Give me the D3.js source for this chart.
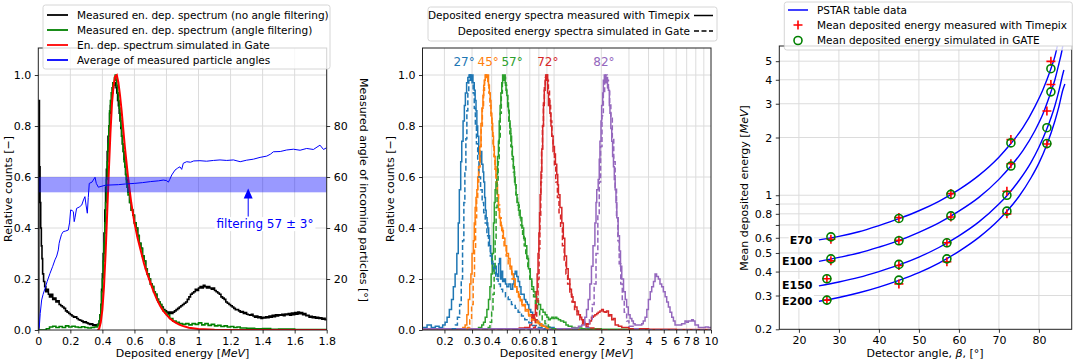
<!DOCTYPE html>
<html>
<head>
<meta charset="utf-8">
<script src="https://cdn.jsdelivr.net/npm/d3@7"></script>
<style>
  body { margin: 0; background: #fff; }
  svg { font-family: "DejaVu Sans", sans-serif; }
</style>
</head>
<body>
<svg id="chart" width="1074" height="362"></svg>
<script>
// ---------- panel 1: spectra at 57 deg ----------
const p1XTicks = [0, 0.2, 0.4, 0.6, 0.8, 1, 1.2, 1.4, 1.6, 1.8];
const p1YTicks = [0, 0.2, 0.4, 0.6, 0.8, 1.0];
const p1AngleTicks = [20, 40, 60, 80];
const p1Legend = ["Measured en. dep. spectrum (no angle filtering)", "Measured en. dep. spectrum (angle filtering)",
  "En. dep. spectrum simulated in Gate", "Average of measured particle angles"];
const filterBand = [54, 60];

const noFilterSpec = [[0,0],[0.003,0.9],[0.007,0.64],[0.011,0.5],[0.015,0.4],[0.019,0.33],[0.023,0.28],[0.027,0.22],[0.033,0.19],
  [0.04,0.17],[0.047,0.15],[0.055,0.16],[0.063,0.14],[0.07,0.13],[0.08,0.14],[0.09,0.12],[0.1,0.125],[0.11,0.11],[0.12,0.115],
  [0.13,0.1],[0.14,0.095],[0.15,0.09],[0.16,0.085],[0.17,0.075],[0.18,0.07],[0.19,0.065],[0.2,0.06],[0.21,0.055],[0.22,0.05],
  [0.23,0.052],[0.24,0.045],[0.25,0.04],[0.26,0.038],[0.27,0.035],[0.28,0.03],[0.29,0.032],[0.3,0.028],[0.31,0.025],[0.32,0.022],
  [0.33,0.024],[0.34,0.018],[0.35,0.02],[0.36,0.016],[0.37,0.022],[0.38,0.035],[0.385,0.06],[0.39,0.1],[0.395,0.16],[0.4,0.22],
  [0.405,0.3],[0.41,0.38],[0.415,0.47],[0.42,0.56],[0.425,0.63],[0.43,0.7],[0.435,0.76],[0.44,0.8],[0.445,0.85],[0.45,0.88],
  [0.455,0.9],[0.46,0.93],[0.465,0.95],[0.47,0.97],[0.475,0.96],[0.48,0.97],[0.485,0.95],[0.49,0.93],[0.495,0.9],[0.5,0.88],
  [0.505,0.85],[0.51,0.82],[0.515,0.79],[0.52,0.76],[0.525,0.73],[0.53,0.7],[0.535,0.67],[0.54,0.64],[0.545,0.61],[0.55,0.59],
  [0.555,0.56],[0.56,0.54],[0.57,0.5],[0.58,0.47],[0.59,0.45],[0.6,0.42],[0.61,0.4],[0.62,0.37],[0.63,0.34],[0.64,0.32],
  [0.65,0.29],[0.66,0.27],[0.67,0.24],[0.68,0.22],[0.69,0.2],[0.7,0.18],[0.71,0.17],[0.72,0.15],[0.73,0.14],[0.74,0.12],
  [0.75,0.11],[0.76,0.1],[0.77,0.09],[0.78,0.08],[0.79,0.075],[0.8,0.07],[0.81,0.065],[0.82,0.07],[0.83,0.065],[0.84,0.07],
  [0.85,0.075],[0.86,0.08],[0.87,0.085],[0.88,0.09],[0.89,0.095],[0.9,0.1],[0.91,0.105],[0.92,0.11],[0.93,0.12],[0.94,0.13],
  [0.95,0.14],[0.96,0.145],[0.97,0.15],[0.98,0.16],[0.99,0.155],[1.0,0.165],[1.01,0.17],[1.02,0.165],[1.03,0.175],[1.04,0.17],
  [1.05,0.165],[1.06,0.17],[1.07,0.165],[1.08,0.16],[1.09,0.165],[1.1,0.155],[1.11,0.15],[1.12,0.145],[1.13,0.14],[1.14,0.13],
  [1.15,0.125],[1.16,0.12],[1.17,0.11],[1.18,0.105],[1.19,0.1],[1.2,0.095],[1.21,0.09],[1.22,0.085],[1.23,0.08],[1.24,0.08],
  [1.25,0.075],[1.26,0.07],[1.27,0.072],[1.28,0.065],[1.29,0.068],[1.3,0.062],[1.31,0.06],[1.32,0.058],[1.33,0.062],[1.34,0.055],
  [1.35,0.05],[1.36,0.055],[1.37,0.048],[1.38,0.052],[1.39,0.045],[1.4,0.05],[1.41,0.047],[1.42,0.052],[1.43,0.048],[1.44,0.055],
  [1.45,0.05],[1.46,0.058],[1.47,0.052],[1.48,0.06],[1.49,0.055],[1.5,0.06],[1.51,0.058],[1.52,0.062],[1.53,0.056],[1.54,0.063],
  [1.55,0.06],[1.56,0.065],[1.57,0.058],[1.58,0.066],[1.59,0.06],[1.6,0.068],[1.61,0.062],[1.62,0.07],[1.63,0.064],[1.64,0.068],
  [1.65,0.06],[1.66,0.065],[1.67,0.056],[1.68,0.058],[1.69,0.05],[1.7,0.054],[1.71,0.048],[1.72,0.052],[1.73,0.046],[1.74,0.05],
  [1.75,0.045],[1.76,0.048],[1.77,0.042],[1.78,0.046],[1.79,0.04],[1.8,0.044]];

const filterSpec = [[0,0],[0.05,0.005],[0.07,0.012],[0.09,0.015],[0.11,0.01],[0.13,0.014],[0.15,0.01],[0.17,0.016],[0.19,0.012],
  [0.21,0.015],[0.23,0.012],[0.25,0.01],[0.27,0.013],[0.29,0.01],[0.31,0.008],[0.33,0.01],[0.35,0.012],[0.37,0.02],[0.38,0.035],
  [0.385,0.06],[0.39,0.1],[0.395,0.15],[0.4,0.2],[0.405,0.27],[0.41,0.34],[0.415,0.42],[0.42,0.5],[0.425,0.59],[0.43,0.66],
  [0.435,0.73],[0.44,0.8],[0.445,0.86],[0.45,0.9],[0.455,0.93],[0.46,0.95],[0.465,0.97],[0.47,0.96],[0.475,0.99],[0.48,1.0],
  [0.485,0.98],[0.49,0.96],[0.495,0.93],[0.5,0.9],[0.505,0.87],[0.51,0.83],[0.515,0.8],[0.52,0.76],[0.525,0.73],[0.53,0.7],
  [0.535,0.66],[0.54,0.64],[0.545,0.61],[0.55,0.58],[0.555,0.56],[0.56,0.53],[0.57,0.5],[0.58,0.47],[0.59,0.45],[0.6,0.42],
  [0.61,0.4],[0.62,0.37],[0.63,0.34],[0.64,0.32],[0.65,0.29],[0.66,0.27],[0.67,0.24],[0.68,0.22],[0.69,0.2],[0.7,0.18],
  [0.71,0.17],[0.72,0.15],[0.73,0.14],[0.74,0.12],[0.75,0.11],[0.76,0.1],[0.77,0.085],[0.78,0.075],[0.79,0.068],[0.8,0.06],
  [0.82,0.045],[0.84,0.035],[0.86,0.03],[0.88,0.025],[0.9,0.022],[0.92,0.025],[0.94,0.02],[0.96,0.025],[0.98,0.022],[1.0,0.028],
  [1.02,0.02],[1.04,0.025],[1.06,0.018],[1.08,0.022],[1.1,0.016],[1.12,0.018],[1.14,0.014],[1.16,0.016],[1.18,0.012],[1.2,0.014],
  [1.22,0.01],[1.24,0.012],[1.26,0.008],[1.3,0.007],[1.35,0.005],[1.4,0.006],[1.45,0.003],[1.5,0.004],[1.6,0.002],[1.7,0.002],[1.8,0.001]];

const gateSpec = [[0.37,0],[0.38,0.005],[0.39,0.03],[0.4,0.08],[0.41,0.17],[0.42,0.3],[0.43,0.46],[0.44,0.62],[0.45,0.77],
  [0.46,0.89],[0.47,0.96],[0.48,0.995],[0.49,1.0],[0.5,0.97],[0.51,0.92],[0.52,0.86],[0.53,0.79],[0.54,0.72],[0.55,0.66],
  [0.56,0.6],[0.57,0.55],[0.58,0.5],[0.59,0.46],[0.6,0.42],[0.62,0.36],[0.64,0.31],[0.66,0.26],[0.68,0.22],[0.7,0.185],
  [0.72,0.15],[0.74,0.12],[0.76,0.095],[0.78,0.075],[0.8,0.06],[0.82,0.046],[0.84,0.036],[0.86,0.028],[0.88,0.021],[0.9,0.016],
  [0.94,0.009],[1.0,0.004],[1.1,0.001],[1.2,0],[1.8,0]];

const angleAvg = [[0,0],[0.006,1],[0.012,6.5],[0.021,11.8],[0.03,14],[0.042,16.3],[0.055,19],[0.073,22.2],[0.09,25],[0.104,27.5],
  [0.115,29],[0.125,31.4],[0.13,34],[0.135,35.3],[0.145,37.5],[0.156,38.6],[0.17,38.8],[0.187,39.2],[0.195,42],[0.202,47.1],
  [0.212,46.8],[0.219,46.4],[0.224,42.5],[0.229,44],[0.239,47.7],[0.255,48.2],[0.271,49],[0.282,51],[0.291,52.3],[0.298,49],
  [0.306,45.8],[0.312,52],[0.318,57.5],[0.335,58],[0.354,59.9],[0.362,57.5],[0.375,56],[0.385,56.2],[0.42,56.8],[0.5,57],
  [0.55,57.3],[0.6,57.5],[0.65,57.8],[0.7,58.2],[0.75,58.5],[0.78,58.8],[0.8,58.6],[0.812,58],[0.82,59],[0.833,60.8],
  [0.853,62.7],[0.87,63.5],[0.884,64],[0.895,63],[0.905,65.4],[0.926,66],[0.95,65.8],[0.97,66.3],[1.009,66.4],[1.05,66.2],
  [1.093,66.5],[1.134,66.7],[1.176,66.5],[1.218,66.7],[1.26,66],[1.3,66.6],[1.343,67],[1.384,67.7],[1.426,68.2],[1.45,69],
  [1.467,69.9],[1.51,70],[1.55,70.6],[1.592,70.9],[1.634,70.5],[1.675,71.2],[1.717,70.8],[1.758,72.5],[1.78,70.8],[1.8,71.5]];

// ---------- panel 2: spectra for five angles ----------
const p2GridX = [0.2, 0.3, 0.4, 0.5, 0.6, 0.7, 0.8, 0.9, 1, 2, 3, 4, 5, 6, 7, 8, 9];
const p2XLabels = [0.2, 0.3, 0.4, 0.6, 0.8, 1, 2, 3, 4, 5, 6, 7, 8, 10];
const p2YTicks = [0, 0.2, 0.4, 0.6, 0.8, 1.0];
const angleNames = ["27°", "45°", "57°", "72°", "82°"];
const angleLabelEnergy = [0.267, 0.38, 0.54, 0.912, 2.08];
const angleColors = ["#1f77b4", "#ff7f0e", "#2ca02c", "#d62728", "#9467bd"];
const p2Legend = ["Deposited energy spectra measured with Timepix", "Deposited energy spectra simulated in Gate"];

const meas27 = [[0.145,0.01],[0.155,0.02],[0.165,0.01],[0.175,0.015],[0.185,0.01],[0.195,0.02],[0.202,0.03],[0.208,0.05],
  [0.215,0.08],[0.222,0.12],[0.228,0.17],[0.234,0.22],[0.24,0.3],[0.245,0.42],[0.249,0.55],[0.254,0.66],[0.258,0.74],[0.263,0.82],
  [0.268,0.88],[0.272,0.93],[0.277,0.97],[0.282,0.99],[0.287,1.0],[0.293,0.98],[0.298,1.0],[0.304,0.97],[0.31,0.94],[0.314,0.9],
  [0.318,0.86],[0.322,0.8],[0.326,0.76],[0.331,0.69],[0.336,0.66],[0.341,0.7],[0.346,0.65],[0.352,0.62],[0.356,0.58],[0.361,0.52],
  [0.365,0.47],[0.369,0.44],[0.374,0.42],[0.378,0.4],[0.383,0.37],[0.388,0.33],[0.394,0.3],[0.4,0.27],[0.407,0.26],[0.414,0.24],
  [0.421,0.25],[0.428,0.22],[0.436,0.21],[0.443,0.26],[0.449,0.28],[0.456,0.2],[0.463,0.23],[0.47,0.19],[0.48,0.2],[0.49,0.18],
  [0.5,0.17],[0.515,0.18],[0.53,0.16],[0.545,0.18],[0.555,0.22],[0.565,0.23],[0.578,0.21],[0.59,0.19],[0.603,0.17],[0.615,0.14],
  [0.63,0.14],[0.645,0.12],[0.66,0.11],[0.675,0.1],[0.69,0.08],[0.71,0.07],[0.73,0.05],[0.75,0.04],[0.78,0.03],[0.81,0.02],
  [0.85,0.015],[0.9,0.01],[1.0,0.005],[1.2,0.003],[1.5,0.002],[2.0,0],[10,0]];
const sim27 = [[0.145,0],[0.215,0],[0.225,0.005],[0.235,0.02],[0.242,0.05],[0.25,0.1],[0.256,0.2],[0.261,0.35],[0.266,0.5],
  [0.27,0.62],[0.274,0.75],[0.278,0.86],[0.282,0.93],[0.286,0.98],[0.29,1.0],[0.295,0.99],[0.3,0.97],[0.305,0.93],[0.31,0.87],
  [0.315,0.8],[0.32,0.73],[0.326,0.66],[0.332,0.6],[0.34,0.55],[0.348,0.5],[0.356,0.46],[0.364,0.42],[0.373,0.37],[0.382,0.33],
  [0.392,0.29],[0.401,0.26],[0.412,0.23],[0.425,0.2],[0.44,0.18],[0.455,0.16],[0.47,0.15],[0.49,0.13],[0.51,0.12],[0.535,0.1],
  [0.565,0.085],[0.59,0.07],[0.62,0.055],[0.65,0.04],[0.69,0.028],[0.73,0.018],[0.78,0.01],[0.84,0.005],[0.9,0],[10,0]];
const meas45 = [[0.145,0.005],[0.2,0.005],[0.25,0.005],[0.262,0.01],[0.271,0.02],[0.278,0.06],[0.284,0.12],[0.29,0.18],
  [0.295,0.22],[0.3,0.3],[0.306,0.35],[0.31,0.42],[0.314,0.48],[0.318,0.52],[0.322,0.55],[0.326,0.6],[0.33,0.64],[0.336,0.72],
  [0.342,0.81],[0.347,0.87],[0.352,0.92],[0.356,0.96],[0.36,0.98],[0.364,1.0],[0.37,0.99],[0.376,1.0],[0.382,0.96],[0.387,0.93],
  [0.392,0.9],[0.396,0.85],[0.401,0.81],[0.406,0.76],[0.411,0.72],[0.416,0.68],[0.421,0.64],[0.426,0.6],[0.431,0.57],[0.436,0.53],
  [0.442,0.47],[0.448,0.44],[0.455,0.41],[0.464,0.39],[0.475,0.36],[0.486,0.33],[0.498,0.3],[0.512,0.28],[0.524,0.25],[0.537,0.22],
  [0.55,0.2],[0.565,0.17],[0.58,0.15],[0.593,0.13],[0.608,0.115],[0.623,0.1],[0.655,0.08],[0.687,0.06],[0.72,0.045],[0.757,0.035],
  [0.795,0.025],[0.835,0.015],[0.88,0.01],[0.921,0.005],[1.0,0.003],[1.3,0.002],[2,0],[10,0]];
const sim45 = [[0.145,0],[0.27,0],[0.28,0.01],[0.29,0.04],[0.298,0.1],[0.305,0.2],[0.311,0.32],[0.316,0.44],[0.321,0.52],
  [0.326,0.58],[0.331,0.64],[0.337,0.72],[0.343,0.8],[0.349,0.88],[0.355,0.94],[0.36,0.98],[0.366,1.0],[0.372,0.99],[0.378,0.97],
  [0.384,0.93],[0.39,0.88],[0.396,0.83],[0.402,0.78],[0.408,0.73],[0.414,0.68],[0.42,0.63],[0.427,0.58],[0.434,0.54],[0.442,0.49],
  [0.45,0.44],[0.46,0.4],[0.47,0.36],[0.48,0.33],[0.495,0.29],[0.51,0.26],[0.525,0.23],[0.54,0.2],[0.56,0.17],[0.58,0.14],
  [0.6,0.12],[0.625,0.095],[0.655,0.075],[0.69,0.055],[0.72,0.04],[0.76,0.028],[0.8,0.018],[0.85,0.01],[0.9,0.005],[1.0,0],[10,0]];
const meas57 = [[0.145,0.005],[0.3,0.005],[0.33,0.01],[0.346,0.02],[0.355,0.03],[0.364,0.05],[0.373,0.08],[0.382,0.12],
  [0.39,0.17],[0.397,0.22],[0.404,0.3],[0.411,0.42],[0.416,0.5],[0.421,0.55],[0.426,0.58],[0.431,0.61],[0.436,0.68],[0.442,0.74],
  [0.447,0.82],[0.453,0.88],[0.458,0.93],[0.464,0.97],[0.47,1.0],[0.476,0.98],[0.482,1.0],[0.488,0.97],[0.494,0.94],[0.5,0.92],
  [0.506,0.89],[0.512,0.86],[0.518,0.82],[0.524,0.79],[0.53,0.76],[0.536,0.72],[0.542,0.68],[0.55,0.64],[0.558,0.6],[0.565,0.57],
  [0.572,0.53],[0.58,0.5],[0.593,0.47],[0.608,0.44],[0.623,0.4],[0.64,0.36],[0.655,0.33],[0.67,0.28],[0.687,0.24],[0.705,0.2],
  [0.721,0.17],[0.74,0.15],[0.757,0.13],[0.776,0.115],[0.795,0.1],[0.82,0.08],[0.85,0.07],[0.877,0.06],[0.9,0.05],[0.921,0.04],
  [0.945,0.045],[0.967,0.05],[0.99,0.045],[1.015,0.05],[1.04,0.045],[1.066,0.04],[1.1,0.035],[1.15,0.03],[1.19,0.02],[1.23,0.015],
  [1.3,0.01],[1.36,0.008],[1.5,0.005],[2.0,0.003],[3,0],[10,0]];
const sim57 = [[0.145,0],[0.36,0],[0.375,0.01],[0.39,0.03],[0.4,0.07],[0.408,0.14],[0.415,0.24],[0.421,0.36],[0.427,0.48],
  [0.433,0.58],[0.44,0.66],[0.447,0.75],[0.454,0.85],[0.461,0.93],[0.468,0.98],[0.475,1.0],[0.482,0.99],[0.49,0.96],[0.498,0.92],
  [0.506,0.87],[0.514,0.82],[0.522,0.77],[0.53,0.72],[0.54,0.67],[0.55,0.62],[0.56,0.58],[0.572,0.53],[0.585,0.49],[0.6,0.45],
  [0.615,0.41],[0.63,0.37],[0.645,0.33],[0.66,0.29],[0.68,0.24],[0.7,0.2],[0.72,0.16],[0.74,0.13],[0.76,0.105],[0.785,0.08],
  [0.81,0.06],[0.84,0.04],[0.875,0.025],[0.92,0.012],[0.97,0.005],[1.05,0],[10,0]];
const meas72 = [[0.145,0.005],[0.3,0.005],[0.5,0.005],[0.6,0.008],[0.65,0.01],[0.7,0.02],[0.72,0.06],[0.735,0.04],[0.75,0.06],
  [0.76,0.1],[0.77,0.15],[0.78,0.22],[0.79,0.3],[0.8,0.38],[0.808,0.46],[0.815,0.53],[0.825,0.62],[0.835,0.71],[0.846,0.8],
  [0.856,0.88],[0.866,0.94],[0.877,0.98],[0.884,1.0],[0.89,0.98],[0.9,1.0],[0.91,0.93],[0.921,0.88],[0.93,0.9],[0.94,0.85],
  [0.955,0.8],[0.967,0.76],[0.985,0.72],[1.005,0.69],[1.02,0.65],[1.04,0.61],[1.055,0.57],[1.066,0.53],[1.09,0.48],[1.12,0.42],
  [1.145,0.36],[1.17,0.29],[1.2,0.24],[1.23,0.2],[1.26,0.16],[1.29,0.13],[1.32,0.11],[1.36,0.09],[1.4,0.075],[1.43,0.06],
  [1.47,0.05],[1.5,0.04],[1.54,0.03],[1.57,0.025],[1.62,0.022],[1.65,0.025],[1.69,0.035],[1.73,0.05],[1.78,0.055],[1.82,0.06],
  [1.87,0.065],[1.91,0.07],[1.96,0.075],[2.01,0.08],[2.06,0.072],[2.11,0.07],[2.16,0.075],[2.22,0.055],[2.27,0.06],[2.33,0.04],
  [2.39,0.045],[2.45,0.02],[2.57,0.015],[2.7,0.01],[3.0,0.005],[4,0.003],[6,0.002],[10,0]];
const sim72 = [[0.145,0],[0.7,0],[0.74,0.01],[0.76,0.04],[0.775,0.1],[0.79,0.2],[0.802,0.32],[0.812,0.45],[0.822,0.58],
  [0.832,0.7],[0.843,0.8],[0.855,0.89],[0.867,0.95],[0.88,0.99],[0.893,1.0],[0.906,0.98],[0.92,0.94],[0.935,0.88],[0.95,0.82],
  [0.967,0.76],[0.985,0.7],[1.005,0.64],[1.025,0.58],[1.05,0.52],[1.075,0.46],[1.1,0.4],[1.13,0.33],[1.16,0.27],[1.19,0.22],
  [1.22,0.18],[1.26,0.14],[1.3,0.11],[1.35,0.08],[1.4,0.06],[1.46,0.04],[1.52,0.025],[1.6,0.015],[1.7,0.008],[1.85,0.003],[2,0],[10,0]];
const meas82 = [[0.145,0.005],[0.5,0.005],[1.0,0.005],[1.3,0.008],[1.43,0.015],[1.5,0.02],[1.57,0.05],[1.61,0.08],[1.65,0.12],
  [1.69,0.18],[1.73,0.25],[1.77,0.33],[1.82,0.42],[1.85,0.5],[1.87,0.55],[1.91,0.59],[1.94,0.67],[1.96,0.74],[1.99,0.82],
  [2.01,0.88],[2.04,0.93],[2.06,0.98],[2.09,1.0],[2.12,0.97],[2.16,0.99],[2.19,0.95],[2.22,0.94],[2.25,0.88],[2.27,0.85],
  [2.3,0.79],[2.33,0.74],[2.36,0.68],[2.39,0.64],[2.42,0.59],[2.45,0.55],[2.48,0.5],[2.51,0.44],[2.56,0.37],[2.61,0.31],
  [2.65,0.25],[2.7,0.2],[2.77,0.15],[2.84,0.12],[2.9,0.09],[2.97,0.06],[3.05,0.045],[3.13,0.035],[3.2,0.025],[3.28,0.02],
  [3.45,0.02],[3.62,0.025],[3.7,0.035],[3.8,0.05],[3.9,0.08],[3.99,0.12],[4.1,0.15],[4.19,0.17],[4.3,0.19],[4.4,0.22],
  [4.5,0.21],[4.62,0.2],[4.73,0.18],[4.85,0.17],[4.97,0.15],[5.1,0.13],[5.22,0.11],[5.35,0.09],[5.48,0.07],[5.62,0.05],
  [5.76,0.035],[5.9,0.02],[6.2,0.02],[6.5,0.025],[6.83,0.035],[7.0,0.03],[7.17,0.035],[7.53,0.04],[7.7,0.035],[7.91,0.02],
  [8.31,0.01],[8.72,0.01],[9.2,0.012],[9.6,0.01],[10,0.01]];
const sim82 = [[0.145,0],[1.5,0],[1.6,0.01],[1.68,0.04],[1.75,0.1],[1.8,0.18],[1.85,0.3],[1.9,0.45],[1.94,0.58],[1.98,0.72],
  [2.02,0.84],[2.06,0.93],[2.1,0.98],[2.14,1.0],[2.18,0.98],[2.22,0.94],[2.26,0.89],[2.3,0.83],[2.35,0.75],[2.4,0.66],
  [2.45,0.56],[2.5,0.45],[2.55,0.35],[2.6,0.26],[2.66,0.18],[2.72,0.12],[2.8,0.07],[2.9,0.035],[3.0,0.015],[3.2,0.005],[3.5,0],[10,0]];
const measuredSpectra = [meas27, meas45, meas57, meas72, meas82];
const simulatedSpectra = [sim27, sim45, sim57, sim72, sim82];

// ---------- panel 3: mean deposited energy vs angle ----------
const p3XTicks = [20, 30, 40, 50, 60, 70, 80];
const p3YGrid = [0.2, 0.3, 0.4, 0.5, 0.6, 0.7, 0.8, 0.9, 1, 2, 3, 4, 5];
const p3YLabels = [0.2, 0.3, 0.4, 0.5, 0.6, 0.8, 1, 2, 3, 4, 5];
const beamNames = ["E70", "E100", "E150", "E200"];
const p3Legend = ["PSTAR table data", "Mean deposited energy measured with Timepix", "Mean deposited energy simulated in GATE"];

const pstarE70 = [[25,0.585],[30,0.61],[35,0.645],[40,0.695],[45,0.755],[50,0.83],[55,0.93],[60,1.07],[65,1.27],[70,1.58],
  [73,1.86],[76,2.25],[79,2.9],[81,3.55],[83,4.57],[84,5.3],[84.6,6.0],[85,6.8]];
const pstarE100 = [[25,0.452],[30,0.474],[35,0.5],[40,0.536],[45,0.58],[50,0.64],[55,0.717],[60,0.826],[65,0.975],[70,1.21],
  [73,1.42],[76,1.71],[79,2.17],[81,2.65],[83,3.45],[84,4.0],[85,4.85],[85.7,5.6],[86.2,6.4]];
const pstarE150 = [[25,0.337],[30,0.353],[35,0.373],[40,0.4],[45,0.433],[50,0.476],[55,0.534],[60,0.614],[65,0.726],[70,0.9],
  [72,0.995],[75,1.19],[78,1.48],[80,1.78],[82,2.22],[84,2.93],[85,3.5],[86,4.3],[86.25,4.5]];
const pstarE200 = [[25,0.28],[30,0.293],[35,0.31],[40,0.332],[45,0.36],[50,0.395],[55,0.443],[60,0.51],[65,0.603],[70,0.745],
  [72,0.825],[75,0.985],[78,1.23],[80,1.47],[82,1.84],[84,2.44],[85,2.9],[86,3.55],[86.5,3.8]];
const pstarCurves = [pstarE70, pstarE100, pstarE150, pstarE200];
const curveLabelAt = [[23.4, 0.585], [23.4, 0.454], [23.4, 0.34], [23.4, 0.281]];

const angles70 = [28, 45, 58, 73, 83];
const angles100 = [28, 45, 58, 73, 83];
const angles150 = [27, 45, 57, 72, 82];
const angles200 = [27, 45, 57, 72, 82];
const measE70 = [0.59, 0.765, 1.02, 1.95, 4.99];
const simE70 = [0.607, 0.757, 1.01, 1.875, 4.57];
const measE100 = [0.455, 0.582, 0.77, 1.46, 3.78];
const simE100 = [0.466, 0.579, 0.781, 1.42, 3.46];
const measE150 = [0.367, 0.43, 0.565, 1.05, 2.75];
const simE150 = [0.367, 0.436, 0.565, 1.0, 2.25];
const measE200 = [0.284, 0.345, 0.45, 0.8, 1.85];
const simE200 = [0.284, 0.361, 0.466, 0.826, 1.86];

// ---------- drawing ----------
const svg = d3.select("#chart");
const FONT = "DejaVu Sans, sans-serif";
const GRID = "#dcdcdc";

function styleAxis(g) {
  g.attr("font-family", FONT).attr("font-size", 11);
  g.select(".domain").remove();
  g.selectAll(".tick line").attr("stroke", "#000").attr("stroke-width", 0.8);
  g.selectAll(".tick text").attr("fill", "#000");
}

function clipFor(id, b) {
  svg.append("clipPath").attr("id", id).append("rect")
    .attr("x", b.left).attr("y", b.top).attr("width", b.right - b.left).attr("height", b.bottom - b.top);
  return svg.append("g").attr("clip-path", `url(#${id})`);
}

function gridLines(b, xs, xv, ys, yv) {
  const g = svg.append("g");
  g.selectAll(".gx").data(xv).join("line")
    .attr("x1", d => xs(d)).attr("x2", d => xs(d)).attr("y1", b.top).attr("y2", b.bottom)
    .attr("stroke", GRID).attr("stroke-width", 1);
  g.selectAll(".gy").data(yv).join("line")
    .attr("x1", b.left).attr("x2", b.right).attr("y1", d => ys(d)).attr("y2", d => ys(d))
    .attr("stroke", GRID).attr("stroke-width", 1);
}

function frame(b) {
  svg.append("rect").attr("x", b.left).attr("y", b.top)
    .attr("width", b.right - b.left).attr("height", b.bottom - b.top)
    .attr("fill", "none").attr("stroke", "#222").attr("stroke-width", 1);
}

function unitLabel(x, y, before, unit, after, rotate) {
  const t = svg.append("text").attr("font-family", FONT).attr("font-size", 11).attr("fill", "#000")
    .attr("text-anchor", "middle")
    .attr("transform", `translate(${x},${y})` + (rotate ? ` rotate(${rotate})` : ""));
  t.append("tspan").text(before);
  if (unit) t.append("tspan").attr("font-style", "italic").text(unit);
  if (after) t.append("tspan").text(after);
  return t;
}

function legendBox(x, y, w, h) {
  svg.append("rect").attr("x", x).attr("y", y).attr("width", w).attr("height", h).attr("rx", 2.5)
    .attr("fill", "#fff").attr("fill-opacity", 0.8).attr("stroke", "#cccccc").attr("stroke-width", 0.8);
}

// ===== panel 1 =====
const b1 = { left: 38.3, right: 326.7, top: 48, bottom: 330 };
const x1 = d3.scaleLinear().domain([0, 1.8]).range([b1.left, b1.right]);
const y1 = d3.scaleLinear().domain([0, 1.106]).range([b1.bottom, b1.top]);
const y1r = d3.scaleLinear().domain([0, 110.6]).range([b1.bottom, b1.top]);

gridLines(b1, x1, p1XTicks.slice(1, -1), y1, p1YTicks.slice(1));
const g1 = clipFor("c1", b1);
const step1 = d3.line().x(d => x1(d[0])).y(d => y1(d[1])).curve(d3.curveStepAfter);
g1.append("path").attr("d", step1(noFilterSpec)).attr("fill", "none").attr("stroke", "#000").attr("stroke-width", 1.6);
g1.append("path").attr("d", step1(filterSpec)).attr("fill", "none").attr("stroke", "#008000").attr("stroke-width", 1.6);
g1.append("path").attr("d", d3.line().x(d => x1(d[0])).y(d => y1(d[1]))(gateSpec))
  .attr("fill", "none").attr("stroke", "#ff0000").attr("stroke-width", 2);
g1.append("rect").attr("x", b1.left).attr("width", b1.right - b1.left)
  .attr("y", y1r(filterBand[1])).attr("height", y1r(filterBand[0]) - y1r(filterBand[1]))
  .attr("fill", "#0000ff").attr("fill-opacity", 0.4);
g1.append("path").attr("d", d3.line().x(d => x1(d[0])).y(d => y1r(d[1]))(angleAvg))
  .attr("fill", "none").attr("stroke", "#0000ff").attr("stroke-width", 1);

// annotation: filtering 57 ± 3°
const annX = x1(1.31), annTip = y1r(55.5), annBase = y1r(44.5);
g1.append("line").attr("x1", annX).attr("x2", annX).attr("y1", annBase).attr("y2", annTip + 8)
  .attr("stroke", "#0000ff").attr("stroke-width", 1);
g1.append("path").attr("d", `M${annX},${annTip} L${annX - 4.5},${annTip + 10} L${annX + 4.5},${annTip + 10} Z`)
  .attr("fill", "#0000ff");
const annText = svg.append("text").attr("x", x1(1.415)).attr("y", y1r(41.6)).attr("dy", "0.35em")
  .attr("text-anchor", "middle").attr("font-family", FONT).attr("font-size", 12).attr("fill", "#0000ff")
  .text("filtering 57 ± 3°");
const tb = annText.node().getBBox();
svg.insert("rect", () => annText.node()).attr("x", tb.x - 2).attr("y", tb.y).attr("width", tb.width + 4)
  .attr("height", tb.height).attr("fill", "#fff");

frame(b1);
styleAxis(svg.append("g").attr("transform", `translate(0,${b1.bottom})`)
  .call(d3.axisBottom(x1).tickValues(p1XTicks).tickFormat(d => String(d)).tickSize(3.5).tickPadding(3.5).tickSizeOuter(0)));
styleAxis(svg.append("g").attr("transform", `translate(${b1.left},0)`)
  .call(d3.axisLeft(y1).tickValues(p1YTicks).tickFormat(d3.format(".1f")).tickSize(3.5).tickPadding(3.5).tickSizeOuter(0)));
styleAxis(svg.append("g").attr("transform", `translate(${b1.right},0)`)
  .call(d3.axisRight(y1r).tickValues(p1AngleTicks).tickSize(3.5).tickPadding(3.5).tickSizeOuter(0)));

unitLabel(182.5, 357, "Deposited energy [", "MeV", "]");
unitLabel(12, 189, "Relative counts [−]", null, null, -90);
unitLabel(360, 190, "Measured angle of incoming particles [°]", null, null, 90);

legendBox(43, 5, 287, 64);
const p1Colors = ["#000", "#008000", "#ff0000", "#0000ff"];
p1Legend.forEach((t, i) => {
  const yy = 15 + i * 15;
  svg.append("line").attr("x1", 47).attr("x2", 68).attr("y1", yy).attr("y2", yy)
    .attr("stroke", p1Colors[i]).attr("stroke-width", 1.8);
  svg.append("text").attr("x", 77).attr("y", yy).attr("dy", "0.35em").attr("font-family", FONT)
    .attr("font-size", 10.5).attr("fill", "#000").text(t);
});

// ===== panel 2 =====
const b2 = { left: 422.5, right: 711, top: 48, bottom: 330 };
const x2 = d3.scaleLog().domain([0.145, 10]).range([b2.left, b2.right]);
const y2 = d3.scaleLinear().domain([0, 1.106]).range([b2.bottom, b2.top]);

gridLines(b2, x2, p2GridX, y2, p2YTicks.slice(1));
const g2 = clipFor("c2", b2);
const step2 = d3.line().x(d => x2(d[0])).y(d => y2(d[1])).curve(d3.curveStepAfter);
measuredSpectra.forEach((s, i) => {
  g2.append("path").attr("d", step2(s)).attr("fill", "none").attr("stroke", angleColors[i]).attr("stroke-width", 1.5);
});
simulatedSpectra.forEach((s, i) => {
  g2.append("path").attr("d", step2(s)).attr("fill", "none").attr("stroke", angleColors[i])
    .attr("stroke-width", 1.5).attr("stroke-dasharray", "5,2.5");
});
angleNames.forEach((t, i) => {
  svg.append("text").attr("x", x2(angleLabelEnergy[i])).attr("y", 62).attr("dy", "0.35em")
    .attr("text-anchor", "middle").attr("font-family", FONT).attr("font-size", 12)
    .attr("fill", angleColors[i]).text(t);
});

frame(b2);
styleAxis(svg.append("g").attr("transform", `translate(0,${b2.bottom})`)
  .call(d3.axisBottom(x2).tickValues(p2GridX.concat([10]))
    .tickFormat(d => p2XLabels.includes(d) ? String(d) : "").tickSize(3.5).tickPadding(3.5).tickSizeOuter(0)));
styleAxis(svg.append("g").attr("transform", `translate(${b2.left},0)`)
  .call(d3.axisLeft(y2).tickValues(p2YTicks).tickFormat(d3.format(".1f")).tickSize(3.5).tickPadding(3.5).tickSizeOuter(0)));
unitLabel(566.5, 357, "Deposited energy [", "MeV", "]");
unitLabel(394, 189, "Relative counts [−]", null, null, -90);

legendBox(428, 7, 289, 34);
p2Legend.forEach((t, i) => {
  const yy = 15.5 + i * 15.5;
  svg.append("text").attr("x", 690).attr("y", yy).attr("dy", "0.35em").attr("text-anchor", "end")
    .attr("font-family", FONT).attr("font-size", 10.5).attr("fill", "#000").text(t);
  svg.append("line").attr("x1", 694).attr("x2", 713).attr("y1", yy).attr("y2", yy)
    .attr("stroke", "#000").attr("stroke-width", 1.5).attr("stroke-dasharray", i ? "5,2.5" : null);
});

// ===== panel 3 =====
const b3 = { left: 779.3, right: 1071.7, top: 46, bottom: 329.3 };
const x3 = d3.scaleLinear().domain([15.1, 88.2]).range([b3.left, b3.right]);
const y3 = d3.scaleLog().domain([0.2, 6.0]).range([b3.bottom, b3.top]);

gridLines(b3, x3, p3XTicks, y3, p3YGrid.slice(1));
const g3 = clipFor("c3", b3);
const smooth3 = d3.line().x(d => x3(d[0])).y(d => y3(d[1])).curve(d3.curveMonotoneX);
pstarCurves.forEach(c => {
  g3.append("path").attr("d", smooth3(c)).attr("fill", "none").attr("stroke", "#0000ff").attr("stroke-width", 1.4);
});
const beamAngles = [angles70, angles100, angles150, angles200];
const beamMeas = [measE70, measE100, measE150, measE200];
const beamSim = [simE70, simE100, simE150, simE200];
beamAngles.forEach((angs, k) => {
  angs.forEach((a, j) => {
    const px = x3(a), py = y3(beamMeas[k][j]);
    g3.append("path").attr("d", `M${px - 4.5},${py}H${px + 4.5}M${px},${py - 4.5}V${py + 4.5}`)
      .attr("stroke", "#ff0000").attr("stroke-width", 1.6);
  });
});
beamAngles.forEach((angs, k) => {
  angs.forEach((a, j) => {
    g3.append("circle").attr("cx", x3(a)).attr("cy", y3(beamSim[k][j])).attr("r", 4)
      .attr("fill", "none").attr("stroke", "#008000").attr("stroke-width", 1.6);
  });
});
beamNames.forEach((t, k) => {
  const lt = svg.append("text").attr("x", x3(curveLabelAt[k][0])).attr("y", y3(curveLabelAt[k][1])).attr("dy", "0.35em")
    .attr("text-anchor", "end").attr("font-family", FONT).attr("font-size", 11).attr("font-weight", "bold")
    .attr("fill", "#000").text(t);
  const lb = lt.node().getBBox();
  svg.insert("rect", () => lt.node()).attr("x", lb.x - 1).attr("y", lb.y).attr("width", lb.width + 2)
    .attr("height", lb.height).attr("fill", "#fff");
});

frame(b3);
styleAxis(svg.append("g").attr("transform", `translate(0,${b3.bottom})`)
  .call(d3.axisBottom(x3).tickValues(p3XTicks).tickSize(3.5).tickPadding(3.5).tickSizeOuter(0)));
styleAxis(svg.append("g").attr("transform", `translate(${b3.left},0)`)
  .call(d3.axisLeft(y3).tickValues(p3YGrid)
    .tickFormat(d => p3YLabels.includes(d) ? (d < 1 ? d.toFixed(1) : String(d)) : "")
    .tickSize(3.5).tickPadding(3.5).tickSizeOuter(0)));
unitLabel(925, 357, "Detector angle, ", "β", ", [°]");
unitLabel(748, 188, "Mean deposited energy [", "MeV", "]", -90);

legendBox(784.3, 2, 288, 48);
const lgY = [10, 25, 40.5];
svg.append("line").attr("x1", 788).attr("x2", 808).attr("y1", lgY[0]).attr("y2", lgY[0])
  .attr("stroke", "#0000ff").attr("stroke-width", 1.5);
svg.append("path").attr("d", `M793.5,${lgY[1]}H802.5M798,${lgY[1] - 4.5}V${lgY[1] + 4.5}`)
  .attr("stroke", "#ff0000").attr("stroke-width", 1.6);
svg.append("circle").attr("cx", 798).attr("cy", lgY[2]).attr("r", 4)
  .attr("fill", "none").attr("stroke", "#008000").attr("stroke-width", 1.6);
p3Legend.forEach((t, i) => {
  svg.append("text").attr("x", 817).attr("y", lgY[i]).attr("dy", "0.35em").attr("font-family", FONT)
    .attr("font-size", 10.5).attr("fill", "#000").text(t);
});
</script>
</body>
</html>
